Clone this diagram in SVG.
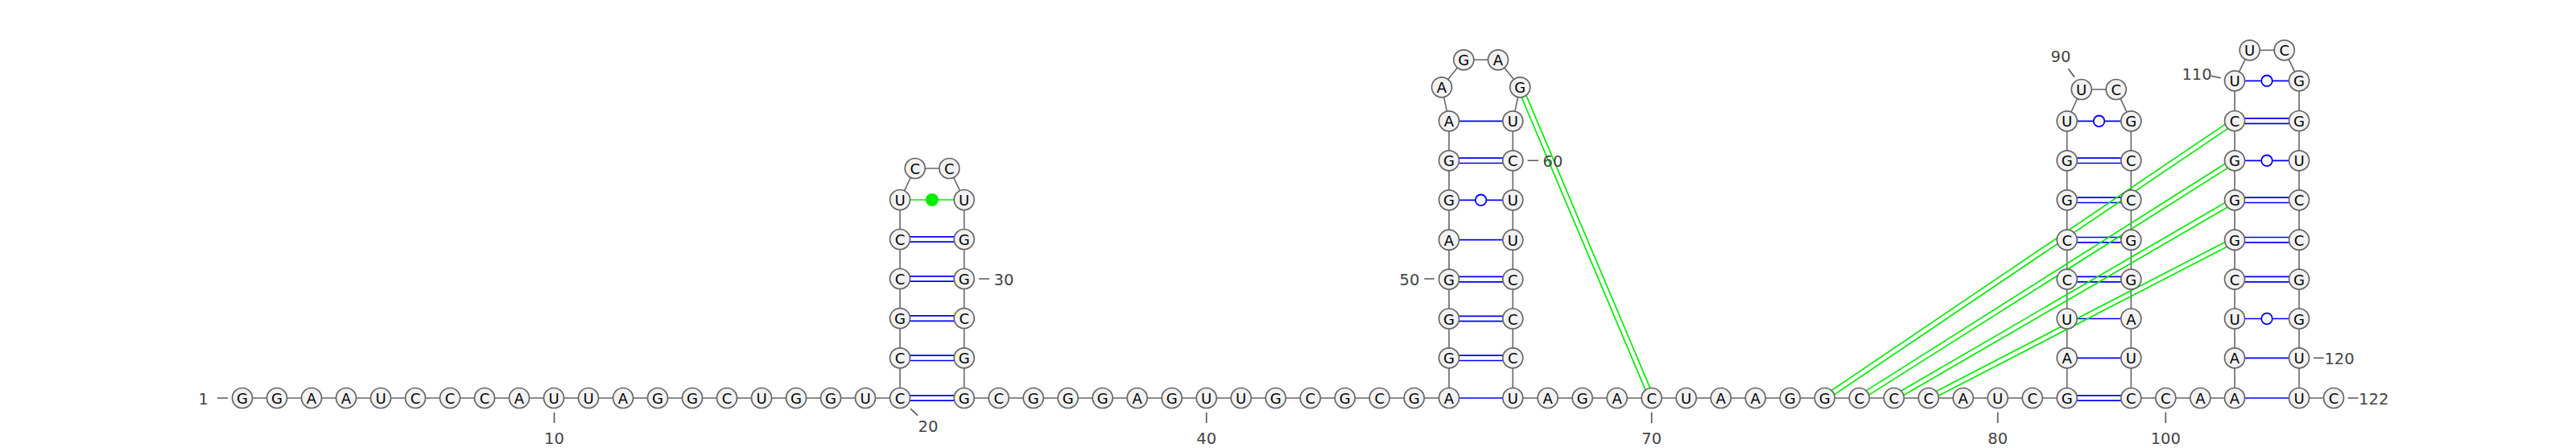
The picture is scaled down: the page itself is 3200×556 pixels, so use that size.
<svg xmlns="http://www.w3.org/2000/svg" width="3200" height="556" viewBox="0 0 3200 556">
<style>
.b{stroke:#666;stroke-width:1.6;fill:none}
.p{stroke:#00f;stroke-width:1.7;fill:none}
.g{stroke:#0e0;stroke-width:1.7;fill:none}
.t{stroke:#555;stroke-width:1.6;fill:none}
.n circle{fill:#f2f2f2;stroke:#666;stroke-width:1.7}
.n text{font:18px "DejaVu Sans",sans-serif;fill:#000;text-anchor:middle;transform:translateY(1px)}
.l{font:19.5px "DejaVu Sans",sans-serif;fill:#444;text-anchor:middle}
.o{fill:#fff;stroke:#00f;stroke-width:1.8}
</style>
<rect width="3200" height="556" fill="#fff"/>
<g id="connectors">
<path class="b" d="M301 494H1118V297M1118 297V248L1136.7 209H1179.3L1197.7 248V494H1800V150.3L1791 108.3L1818.3 74.3H1861L1888.3 108.3L1879.3 150.3V494H2567.7V150.3L2585.7 111H2628.7L2647.3 150.3V494H2776V100.3L2794.7 62.3H2837.7L2856 100.3V494H2899"/>
<g class="p">
<path d="M1118 490.8H1197.7M1118 497.2H1197.7M1118 441.1H1197.7M1118 447.5H1197.7M1118 391.9H1197.7M1118 398.3H1197.7M1118 342.8H1197.7M1118 349.2H1197.7M1118 293.8H1197.7M1118 300.2H1197.7"/>
<path d="M1800 494H1879.3M1800 441.1H1879.3M1800 447.5H1879.3M1800 392.3H1879.3M1800 398.7H1879.3M1800 343.4H1879.3M1800 349.8H1879.3M1800 297.7H1879.3M1800 248.3H1879.3M1800 196.1H1879.3M1800 202.5H1879.3M1800 150.3H1879.3"/>
<path d="M2567.7 490.8H2647.3M2567.7 497.2H2647.3M2567.7 444.3H2647.3M2567.7 395.5H2647.3M2567.7 343.4H2647.3M2567.7 349.8H2647.3M2567.7 294.5H2647.3M2567.7 300.9H2647.3M2567.7 245.1H2647.3M2567.7 251.5H2647.3M2567.7 196.1H2647.3M2567.7 202.5H2647.3M2567.7 150.3H2647.3"/>
<path d="M2776 494H2856M2776 444.3H2856M2776 395.5H2856M2776 343.4H2856M2776 349.8H2856M2776 294.5H2856M2776 300.9H2856M2776 245.1H2856M2776 251.5H2856M2776 199.3H2856M2776 146.9H2856M2776 153.3H2856M2776 100.3H2856"/>
</g>
<path d="M1118 248H1197.7" fill="none" stroke="#0e0" stroke-width="1.7"/>
<circle cx="1157.8" cy="248" r="8" fill="#0e0"/>
<circle class="o" cx="1839.6" cy="248.3" r="6.8"/>
<circle class="o" cx="2607.5" cy="150.3" r="6.8"/>
<circle class="o" cx="2816" cy="199.3" r="6.8"/>
<circle class="o" cx="2816" cy="100.3" r="6.8"/>
<circle class="o" cx="2816" cy="395.5" r="6.8"/>
<g class="g">
<path d="M1885.4 109.5L2048.8 495.2M1891.2 107.1L2054.6 492.8"/>
<path d="M2265 491.4L2774.3 147.4M2268.6 496.6L2777.7 152.6"/>
<path d="M2308 491.4L2774.3 196.7M2311.4 496.6L2777.7 201.9"/>
<path d="M2351 491.2L2774.5 245.5M2354.4 496.6L2777.5 251.1"/>
<path d="M2394.3 491.2L2774.6 294.9M2397.1 496.8L2777.4 300.5"/>
</g>
<g class="t">
<path d="M270 494H283M688.5 511.7V525M1131 507L1140 515.7M1216 346H1229M1498.7 511.7V525M1769.3 346H1781.7M1897.7 199.3H1911M2051.7 511.7V525M2481.7 511.7V525M2569.3 85.3L2577 95.7M2690.3 511.7V525M2746.7 94.3L2758.7 96.7M2874 444.3H2886.7M2916.7 494H2929.3"/>
</g>
</g>
<g id="nodes" class="n">
<g id="n1"><circle cx="301" cy="494" r="12.5"/><text x="301" y="500">G</text></g>
<g id="n2"><circle cx="344" cy="494" r="12.5"/><text x="344" y="500">G</text></g>
<g id="n3"><circle cx="387" cy="494" r="12.5"/><text x="387" y="500">A</text></g>
<g id="n4"><circle cx="430" cy="494" r="12.5"/><text x="430" y="500">A</text></g>
<g id="n5"><circle cx="473" cy="494" r="12.5"/><text x="473" y="500">U</text></g>
<g id="n6"><circle cx="516" cy="494" r="12.5"/><text x="516" y="500">C</text></g>
<g id="n7"><circle cx="559" cy="494" r="12.5"/><text x="559" y="500">C</text></g>
<g id="n8"><circle cx="602" cy="494" r="12.5"/><text x="602" y="500">C</text></g>
<g id="n9"><circle cx="645" cy="494" r="12.5"/><text x="645" y="500">A</text></g>
<g id="n10"><circle cx="688" cy="494" r="12.5"/><text x="688" y="500">U</text></g>
<g id="n11"><circle cx="731" cy="494" r="12.5"/><text x="731" y="500">U</text></g>
<g id="n12"><circle cx="774" cy="494" r="12.5"/><text x="774" y="500">A</text></g>
<g id="n13"><circle cx="817" cy="494" r="12.5"/><text x="817" y="500">G</text></g>
<g id="n14"><circle cx="860" cy="494" r="12.5"/><text x="860" y="500">G</text></g>
<g id="n15"><circle cx="903" cy="494" r="12.5"/><text x="903" y="500">C</text></g>
<g id="n16"><circle cx="946" cy="494" r="12.5"/><text x="946" y="500">U</text></g>
<g id="n17"><circle cx="989" cy="494" r="12.5"/><text x="989" y="500">G</text></g>
<g id="n18"><circle cx="1032" cy="494" r="12.5"/><text x="1032" y="500">G</text></g>
<g id="n19"><circle cx="1075" cy="494" r="12.5"/><text x="1075" y="500">U</text></g>
<g id="n20"><circle cx="1118" cy="494" r="12.5"/><text x="1118" y="500">C</text></g>
<g id="n21"><circle cx="1118" cy="444.3" r="12.5"/><text x="1118" y="450.3">C</text></g>
<g id="n22"><circle cx="1118" cy="395.1" r="12.5"/><text x="1118" y="401.1">G</text></g>
<g id="n23"><circle cx="1118" cy="346" r="12.5"/><text x="1118" y="352">C</text></g>
<g id="n24"><circle cx="1118" cy="297" r="12.5"/><text x="1118" y="303">C</text></g>
<g id="n25"><circle cx="1118" cy="248" r="12.5"/><text x="1118" y="254">U</text></g>
<g id="n26"><circle cx="1136.7" cy="209" r="12.5"/><text x="1136.7" y="215">C</text></g>
<g id="n27"><circle cx="1179.3" cy="209" r="12.5"/><text x="1179.3" y="215">C</text></g>
<g id="n28"><circle cx="1197.7" cy="248" r="12.5"/><text x="1197.7" y="254">U</text></g>
<g id="n29"><circle cx="1197.7" cy="297" r="12.5"/><text x="1197.7" y="303">G</text></g>
<g id="n30"><circle cx="1197.7" cy="346" r="12.5"/><text x="1197.7" y="352">G</text></g>
<g id="n31"><circle cx="1197.7" cy="395.1" r="12.5"/><text x="1197.7" y="401.1">C</text></g>
<g id="n32"><circle cx="1197.7" cy="444.3" r="12.5"/><text x="1197.7" y="450.3">G</text></g>
<g id="n33"><circle cx="1197.7" cy="494" r="12.5"/><text x="1197.7" y="500">G</text></g>
<g id="n34"><circle cx="1240.7" cy="494" r="12.5"/><text x="1240.7" y="500">C</text></g>
<g id="n35"><circle cx="1283.7" cy="494" r="12.5"/><text x="1283.7" y="500">G</text></g>
<g id="n36"><circle cx="1326.7" cy="494" r="12.5"/><text x="1326.7" y="500">G</text></g>
<g id="n37"><circle cx="1369.7" cy="494" r="12.5"/><text x="1369.7" y="500">G</text></g>
<g id="n38"><circle cx="1412.7" cy="494" r="12.5"/><text x="1412.7" y="500">A</text></g>
<g id="n39"><circle cx="1455.7" cy="494" r="12.5"/><text x="1455.7" y="500">G</text></g>
<g id="n40"><circle cx="1498.7" cy="494" r="12.5"/><text x="1498.7" y="500">U</text></g>
<g id="n41"><circle cx="1541.7" cy="494" r="12.5"/><text x="1541.7" y="500">U</text></g>
<g id="n42"><circle cx="1584.7" cy="494" r="12.5"/><text x="1584.7" y="500">G</text></g>
<g id="n43"><circle cx="1627.7" cy="494" r="12.5"/><text x="1627.7" y="500">C</text></g>
<g id="n44"><circle cx="1670.7" cy="494" r="12.5"/><text x="1670.7" y="500">G</text></g>
<g id="n45"><circle cx="1713.7" cy="494" r="12.5"/><text x="1713.7" y="500">C</text></g>
<g id="n46"><circle cx="1756.7" cy="494" r="12.5"/><text x="1756.7" y="500">G</text></g>
<g id="n47"><circle cx="1800" cy="494" r="12.5"/><text x="1800" y="500">A</text></g>
<g id="n48"><circle cx="1800" cy="444.3" r="12.5"/><text x="1800" y="450.3">G</text></g>
<g id="n49"><circle cx="1800" cy="395.5" r="12.5"/><text x="1800" y="401.5">G</text></g>
<g id="n50"><circle cx="1800" cy="346.6" r="12.5"/><text x="1800" y="352.6">G</text></g>
<g id="n51"><circle cx="1800" cy="297.7" r="12.5"/><text x="1800" y="303.7">A</text></g>
<g id="n52"><circle cx="1800" cy="248.3" r="12.5"/><text x="1800" y="254.3">G</text></g>
<g id="n53"><circle cx="1800" cy="199.3" r="12.5"/><text x="1800" y="205.3">G</text></g>
<g id="n54"><circle cx="1800" cy="150.3" r="12.5"/><text x="1800" y="156.3">A</text></g>
<g id="n55"><circle cx="1791" cy="108.3" r="12.5"/><text x="1791" y="114.3">A</text></g>
<g id="n56"><circle cx="1818.3" cy="74.3" r="12.5"/><text x="1818.3" y="80.3">G</text></g>
<g id="n57"><circle cx="1861" cy="74.3" r="12.5"/><text x="1861" y="80.3">A</text></g>
<g id="n58"><circle cx="1888.3" cy="108.3" r="12.5"/><text x="1888.3" y="114.3">G</text></g>
<g id="n59"><circle cx="1879.3" cy="150.3" r="12.5"/><text x="1879.3" y="156.3">U</text></g>
<g id="n60"><circle cx="1879.3" cy="199.3" r="12.5"/><text x="1879.3" y="205.3">C</text></g>
<g id="n61"><circle cx="1879.3" cy="248.3" r="12.5"/><text x="1879.3" y="254.3">U</text></g>
<g id="n62"><circle cx="1879.3" cy="297.7" r="12.5"/><text x="1879.3" y="303.7">U</text></g>
<g id="n63"><circle cx="1879.3" cy="346.6" r="12.5"/><text x="1879.3" y="352.6">C</text></g>
<g id="n64"><circle cx="1879.3" cy="395.5" r="12.5"/><text x="1879.3" y="401.5">C</text></g>
<g id="n65"><circle cx="1879.3" cy="444.3" r="12.5"/><text x="1879.3" y="450.3">C</text></g>
<g id="n66"><circle cx="1879.3" cy="494" r="12.5"/><text x="1879.3" y="500">U</text></g>
<g id="n67"><circle cx="1922.7" cy="494" r="12.5"/><text x="1922.7" y="500">A</text></g>
<g id="n68"><circle cx="1965.7" cy="494" r="12.5"/><text x="1965.7" y="500">G</text></g>
<g id="n69"><circle cx="2008.7" cy="494" r="12.5"/><text x="2008.7" y="500">A</text></g>
<g id="n70"><circle cx="2051.7" cy="494" r="12.5"/><text x="2051.7" y="500">C</text></g>
<g id="n71"><circle cx="2094.7" cy="494" r="12.5"/><text x="2094.7" y="500">U</text></g>
<g id="n72"><circle cx="2137.7" cy="494" r="12.5"/><text x="2137.7" y="500">A</text></g>
<g id="n73"><circle cx="2180.7" cy="494" r="12.5"/><text x="2180.7" y="500">A</text></g>
<g id="n74"><circle cx="2223.7" cy="494" r="12.5"/><text x="2223.7" y="500">G</text></g>
<g id="n75"><circle cx="2266.7" cy="494" r="12.5"/><text x="2266.7" y="500">G</text></g>
<g id="n76"><circle cx="2309.7" cy="494" r="12.5"/><text x="2309.7" y="500">C</text></g>
<g id="n77"><circle cx="2352.7" cy="494" r="12.5"/><text x="2352.7" y="500">C</text></g>
<g id="n78"><circle cx="2395.7" cy="494" r="12.5"/><text x="2395.7" y="500">C</text></g>
<g id="n79"><circle cx="2438.7" cy="494" r="12.5"/><text x="2438.7" y="500">A</text></g>
<g id="n80"><circle cx="2481.7" cy="494" r="12.5"/><text x="2481.7" y="500">U</text></g>
<g id="n81"><circle cx="2524.7" cy="494" r="12.5"/><text x="2524.7" y="500">C</text></g>
<g id="n82"><circle cx="2567.7" cy="494" r="12.5"/><text x="2567.7" y="500">G</text></g>
<g id="n83"><circle cx="2567.7" cy="444.3" r="12.5"/><text x="2567.7" y="450.3">A</text></g>
<g id="n84"><circle cx="2567.7" cy="395.5" r="12.5"/><text x="2567.7" y="401.5">U</text></g>
<g id="n85"><circle cx="2567.7" cy="346.6" r="12.5"/><text x="2567.7" y="352.6">C</text></g>
<g id="n86"><circle cx="2567.7" cy="297.7" r="12.5"/><text x="2567.7" y="303.7">C</text></g>
<g id="n87"><circle cx="2567.7" cy="248.3" r="12.5"/><text x="2567.7" y="254.3">G</text></g>
<g id="n88"><circle cx="2567.7" cy="199.3" r="12.5"/><text x="2567.7" y="205.3">G</text></g>
<g id="n89"><circle cx="2567.7" cy="150.3" r="12.5"/><text x="2567.7" y="156.3">U</text></g>
<g id="n90"><circle cx="2585.7" cy="111" r="12.5"/><text x="2585.7" y="117">U</text></g>
<g id="n91"><circle cx="2628.7" cy="111" r="12.5"/><text x="2628.7" y="117">C</text></g>
<g id="n92"><circle cx="2647.3" cy="150.3" r="12.5"/><text x="2647.3" y="156.3">G</text></g>
<g id="n93"><circle cx="2647.3" cy="199.3" r="12.5"/><text x="2647.3" y="205.3">C</text></g>
<g id="n94"><circle cx="2647.3" cy="248.3" r="12.5"/><text x="2647.3" y="254.3">C</text></g>
<g id="n95"><circle cx="2647.3" cy="297.7" r="12.5"/><text x="2647.3" y="303.7">G</text></g>
<g id="n96"><circle cx="2647.3" cy="346.6" r="12.5"/><text x="2647.3" y="352.6">G</text></g>
<g id="n97"><circle cx="2647.3" cy="395.5" r="12.5"/><text x="2647.3" y="401.5">A</text></g>
<g id="n98"><circle cx="2647.3" cy="444.3" r="12.5"/><text x="2647.3" y="450.3">U</text></g>
<g id="n99"><circle cx="2647.3" cy="494" r="12.5"/><text x="2647.3" y="500">C</text></g>
<g id="n100"><circle cx="2690.3" cy="494" r="12.5"/><text x="2690.3" y="500">C</text></g>
<g id="n101"><circle cx="2733.3" cy="494" r="12.5"/><text x="2733.3" y="500">A</text></g>
<g id="n102"><circle cx="2776" cy="494" r="12.5"/><text x="2776" y="500">A</text></g>
<g id="n103"><circle cx="2776" cy="444.3" r="12.5"/><text x="2776" y="450.3">A</text></g>
<g id="n104"><circle cx="2776" cy="395.5" r="12.5"/><text x="2776" y="401.5">U</text></g>
<g id="n105"><circle cx="2776" cy="346.6" r="12.5"/><text x="2776" y="352.6">C</text></g>
<g id="n106"><circle cx="2776" cy="297.7" r="12.5"/><text x="2776" y="303.7">G</text></g>
<g id="n107"><circle cx="2776" cy="248.3" r="12.5"/><text x="2776" y="254.3">G</text></g>
<g id="n108"><circle cx="2776" cy="199.3" r="12.5"/><text x="2776" y="205.3">G</text></g>
<g id="n109"><circle cx="2776" cy="150" r="12.5"/><text x="2776" y="156">C</text></g>
<g id="n110"><circle cx="2776" cy="100.3" r="12.5"/><text x="2776" y="106.3">U</text></g>
<g id="n111"><circle cx="2794.7" cy="62.3" r="12.5"/><text x="2794.7" y="68.3">U</text></g>
<g id="n112"><circle cx="2837.7" cy="62.3" r="12.5"/><text x="2837.7" y="68.3">C</text></g>
<g id="n113"><circle cx="2856" cy="100.3" r="12.5"/><text x="2856" y="106.3">G</text></g>
<g id="n114"><circle cx="2856" cy="150" r="12.5"/><text x="2856" y="156">G</text></g>
<g id="n115"><circle cx="2856" cy="199.3" r="12.5"/><text x="2856" y="205.3">U</text></g>
<g id="n116"><circle cx="2856" cy="248.3" r="12.5"/><text x="2856" y="254.3">C</text></g>
<g id="n117"><circle cx="2856" cy="297.7" r="12.5"/><text x="2856" y="303.7">C</text></g>
<g id="n118"><circle cx="2856" cy="346.6" r="12.5"/><text x="2856" y="352.6">G</text></g>
<g id="n119"><circle cx="2856" cy="395.5" r="12.5"/><text x="2856" y="401.5">G</text></g>
<g id="n120"><circle cx="2856" cy="444.3" r="12.5"/><text x="2856" y="450.3">U</text></g>
<g id="n121"><circle cx="2856" cy="494" r="12.5"/><text x="2856" y="500">U</text></g>
<g id="n122"><circle cx="2899" cy="494" r="12.5"/><text x="2899" y="500">C</text></g>
</g>
<g id="labels">
<text class="l" x="252.7" y="502">1</text>
<text class="l" x="688.5" y="551">10</text>
<text class="l" x="1153" y="536">20</text>
<text class="l" x="1247" y="353.5">30</text>
<text class="l" x="1498.7" y="551">40</text>
<text class="l" x="1751" y="354">50</text>
<text class="l" x="1929" y="207">60</text>
<text class="l" x="2051.7" y="551">70</text>
<text class="l" x="2481.7" y="551">80</text>
<text class="l" x="2560" y="77">90</text>
<text class="l" x="2690.3" y="551">100</text>
<text class="l" x="2729" y="98.7">110</text>
<text class="l" x="2906" y="452">120</text>
<text class="l" x="2948.7" y="502">122</text>
</g>
</svg>
